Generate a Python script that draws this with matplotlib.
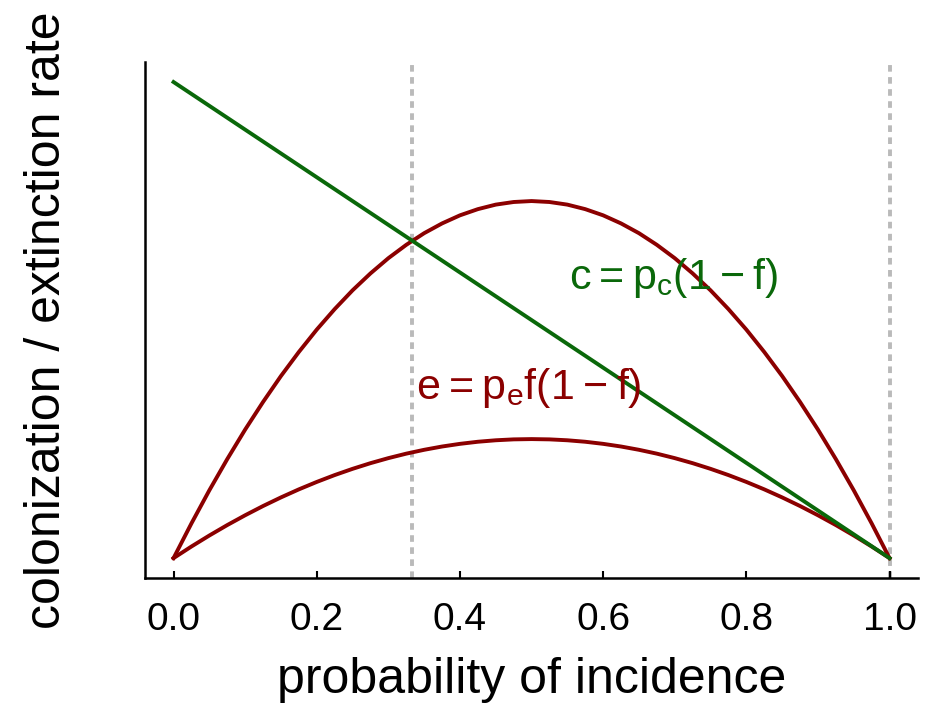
import matplotlib
matplotlib.use("Agg")
import matplotlib.pyplot as plt

plt.rcParams['font.family'] = ['Liberation Sans', 'DejaVu Sans']
plt.rcParams['mathtext.default'] = 'regular'

# probability of incidence (f), first half; second half mirrors it
f_half = [0.0, 0.025, 0.05, 0.075, 0.1, 0.125, 0.15, 0.175, 0.2, 0.225, 0.25,
          0.275, 0.3, 0.325, 0.35, 0.375, 0.4, 0.425, 0.45, 0.475, 0.5]
# extinction rate, high p_e (upper red curve), read for the first half
ext_high_half = [0.0, 0.073, 0.1425, 0.208, 0.27, 0.328, 0.3825, 0.433, 0.48, 0.523, 0.5625,
                 0.598, 0.63, 0.658, 0.6825, 0.703, 0.72, 0.733, 0.7425, 0.748, 0.75]
# extinction rate, low p_e (lower red curve), read for the first half
ext_low_half = [0.0, 0.0244, 0.0475, 0.0694, 0.09, 0.1094, 0.1275, 0.1444, 0.16, 0.1744, 0.1875,
                0.1994, 0.21, 0.2194, 0.2275, 0.2344, 0.24, 0.2444, 0.2475, 0.2494, 0.25]
# colonization rate c (green straight line), end points
f_line = [0.0, 1.0]
colon = [1.0, 0.0]
# equilibrium incidences (dotted verticals)
equil = [1/3, 1.0]
xticks = [0.0, 0.2, 0.4, 0.6, 0.8, 1.0]

# the curves are symmetric around f = 0.5
f = f_half + [1 - v for v in f_half[-2::-1]]
ext_high = ext_high_half + ext_high_half[-2::-1]
ext_low = ext_low_half + ext_low_half[-2::-1]

green = '#0a680a'
red = '#8b0000'

fig = plt.figure(figsize=(9.35, 7.05), dpi=100)
ax = fig.add_axes([0.155, 0.180, 0.827, 0.732])

for xv in equil:
    ax.axvline(xv, color='#bababa', lw=2.8, linestyle=(0, (1.7, 1.4)), zorder=1)

ax.plot(f_line, colon, color=green, lw=2.8, zorder=3)
ax.plot(f, ext_high, color=red, lw=2.8, zorder=2, solid_joinstyle='round')
ax.plot(f, ext_low, color=red, lw=2.8, zorder=2, solid_joinstyle='round')

ax.text(0.552, 0.565, r'$c = p_c(1 - f)$', color=green, fontsize=31)
ax.text(0.338, 0.335, r'$e = p_e f(1 - f)$', color=red, fontsize=31)

ax.set_xlim(-0.04, 1.04)
ax.set_ylim(-0.042, 1.042)
ax.set_xticks(xticks)
ax.set_xticklabels(['%.1f' % t for t in xticks], fontsize=28)
ax.set_yticks([])
ax.tick_params(axis='x', direction='in', length=5, width=1.5, pad=17)

ax.spines['top'].set_visible(False)
ax.spines['right'].set_visible(False)
ax.spines['left'].set_linewidth(1.8)
ax.spines['bottom'].set_linewidth(1.8)

ax.set_xlabel('probability of incidence', fontsize=36, labelpad=14)
ax.set_ylabel('colonization / extinction rate', fontsize=36, labelpad=54)

fig.savefig('out.png', dpi=100)
